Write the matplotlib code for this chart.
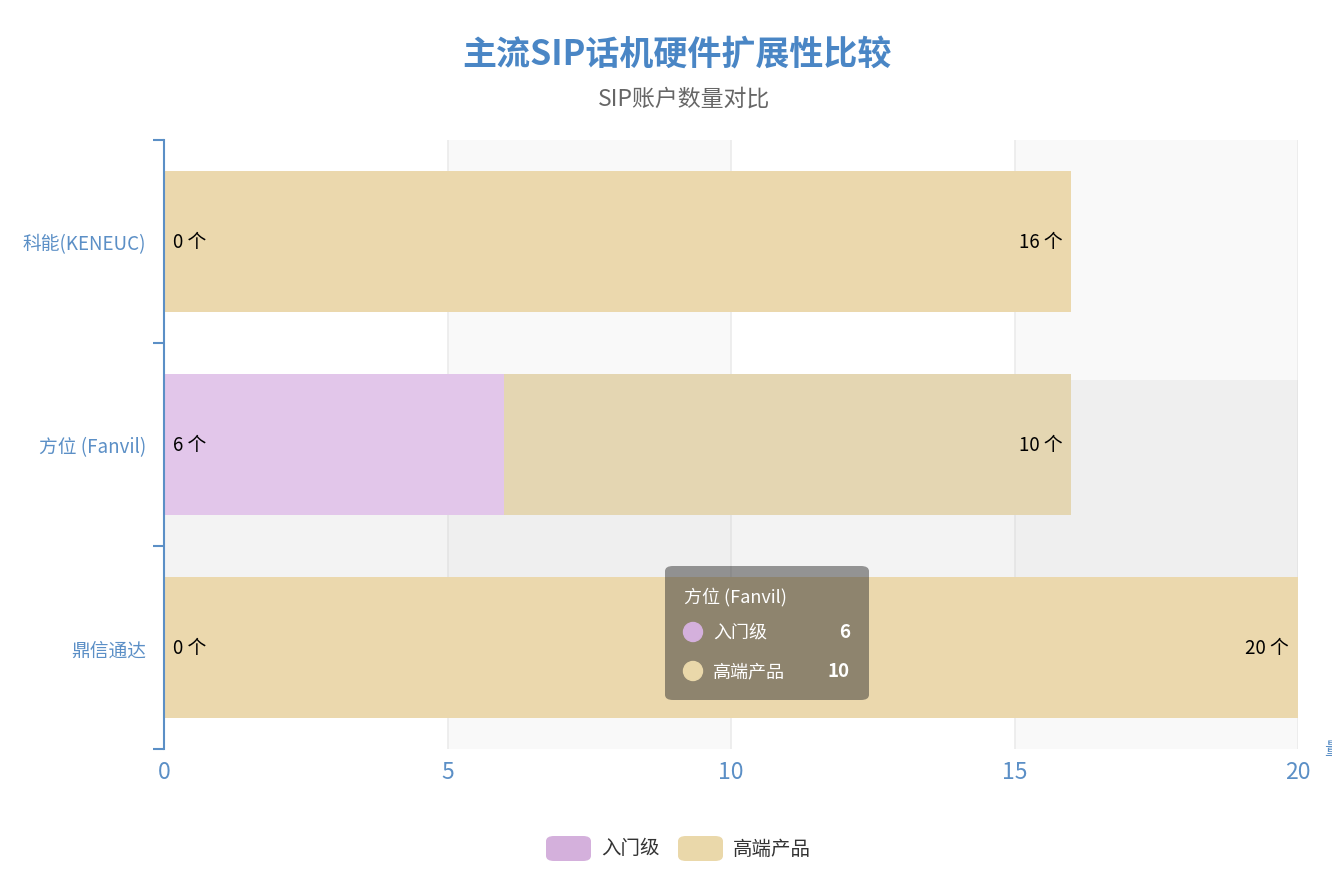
"""
plot.py draws the SIP phone account comparison as a stacked horizontal bar chart.
"""

import matplotlib
matplotlib.use("Agg")
import matplotlib.pyplot as plt
from matplotlib.patches import FancyBboxPatch, Rectangle, Ellipse

plt.rcParams['font.family'] = ['Noto Sans CJK SC', 'DejaVu Sans']

# --- data ---
brands = ["鼎信通达", "方位 (Fanvil)", "科能(KENEUC)"]
entry_level = [0, 6, 0]
high_end = [20, 10, 16]
series_names = ["入门级", "高端产品"]
x_ticks = [0, 5, 10, 15, 20]
hover_index = 1

BLUE = "#4a86c5"
AXIS_BLUE = "#5b8fc6"
PINK = "#e8c7f2"
GOLD = "#ebd8ad"

W, H = 1332, 870

# --- figure ---
fig = plt.figure(figsize=(W / 100, H / 100), dpi=100)
ax = fig.add_axes([164 / W, 1 - 750 / H, (1298 - 164) / W, (750 - 141) / H])

ax.set_xlim(0, 20)
ax.set_ylim(-0.5, 2.5)

# split area columns
for i in range(len(x_ticks) - 1):
    col = "#f9f9f9" if i % 2 == 1 else "white"
    ax.axvspan(x_ticks[i], x_ticks[i + 1], color=col, zorder=0, lw=0)
for t in x_ticks[1:]:
    ax.axvline(t, color="#ebebeb", lw=1.2, zorder=1)

# axis pointer shadow (under the bars)
ax.add_patch(Rectangle((0, 0.345), 20, 0.975, color="#c7c7c7", alpha=0.2,
                       lw=0, zorder=1.5))

# --- bars ---
ypos = list(range(len(brands)))
h = 0.69
pink_cols = ["#e2c6ea" if i == hover_index else PINK for i in ypos]
gold_cols = ["#e4d6b2" if i == hover_index else GOLD for i in ypos]
ax.barh(ypos, entry_level, height=h, color=pink_cols, zorder=2, lw=0)
ax.barh(ypos, high_end, left=entry_level, height=h, color=gold_cols, zorder=2, lw=0)

for y, a, b in zip(ypos, entry_level, high_end):
    ax.text(0.16, y, f"{a} 个", ha="left", va="center", fontsize=13.5,
            color="black", zorder=5)
    ax.text(a + b - 0.16, y, f"{b} 个", ha="right", va="center",
            fontsize=13.5, color="black", zorder=5)

# --- axes styling ---
for s in ["top", "right", "bottom"]:
    ax.spines[s].set_visible(False)
ax.spines["left"].set_color(AXIS_BLUE)
ax.spines["left"].set_linewidth(1.5)
ax.spines["left"].set_zorder(6)

ax.set_yticks([-0.5, 0.5, 1.5, 2.5])
ax.set_yticklabels([])
ax.set_yticks(ypos, minor=True)
ax.set_yticklabels(brands, minor=True, color=AXIS_BLUE, fontsize=13.5)
ax.tick_params(axis="y", which="major", length=8, width=1.5, color=AXIS_BLUE)
ax.tick_params(axis="y", which="minor", length=0, pad=13)

ax.set_xticks(x_ticks)
ax.set_xticklabels([str(t) for t in x_ticks], color=AXIS_BLUE, fontsize=16.5)
ax.tick_params(axis="x", length=0, pad=8)

# --- title ---
fig.text(677 / W, 1 - 55 / H, "主流SIP话机硬件扩展性比较", ha="center", va="center",
         fontsize=24.5, fontweight="bold", color=BLUE)
fig.text(684 / W, 1 - 99 / H, "SIP账户数量对比", ha="center", va="center",
         fontsize=16.5, color="#666666")

# cut-off axis name on the right
fig.text(1324 / W, 1 - 750 / H, "量", ha="left", va="center",
         fontsize=13, color=AXIS_BLUE)

# --- legend ---
legend_items = [(546, series_names[0], "#d4b0dc"), (678, series_names[1], "#ead8aa")]
for x0, name, col in legend_items:
    fig.patches.append(FancyBboxPatch((x0 / W, 1 - 862 / H), 45 / W, 25 / H,
                                      boxstyle="round,pad=0,rounding_size=0.006",
                                      transform=fig.transFigure, color=col, lw=0))
    fig.text((x0 + 55) / W, 1 - 849 / H, name, ha="left", va="center",
             fontsize=14, color="#333333")

# --- tooltip ---
tx0, ty0, tw, th = 665, 567, 204, 134
fig.patches.append(FancyBboxPatch((tx0 / W, 1 - (ty0 + th) / H), tw / W, th / H,
                                  boxstyle="round,pad=0,rounding_size=0.006",
                                  transform=fig.transFigure, color="#272727",
                                  alpha=0.47, lw=0, zorder=10))
fig.text(684 / W, 1 - 597 / H, brands[hover_index], ha="left", va="center",
         fontsize=13, fontweight="medium", color="white", zorder=11)
tip_rows = [(633, series_names[0], entry_level[hover_index], "#d4b0dc"),
            (672, series_names[1], high_end[hover_index], "#ead8aa")]
for yy, name, val, col in tip_rows:
    fig.patches.append(Ellipse((693 / W, 1 - yy / H), 19 / W, 19 / H,
                               transform=fig.transFigure, color=col, zorder=11))
    fig.text(713 / W, 1 - yy / H, name, ha="left", va="center",
             fontsize=13, fontweight="medium", color="white", zorder=11)
    fig.text(850 / W, 1 - yy / H, str(val), ha="right", va="center",
             fontsize=13.5, fontweight="bold", color="white", zorder=11)

fig.savefig("out.png", dpi=100)
